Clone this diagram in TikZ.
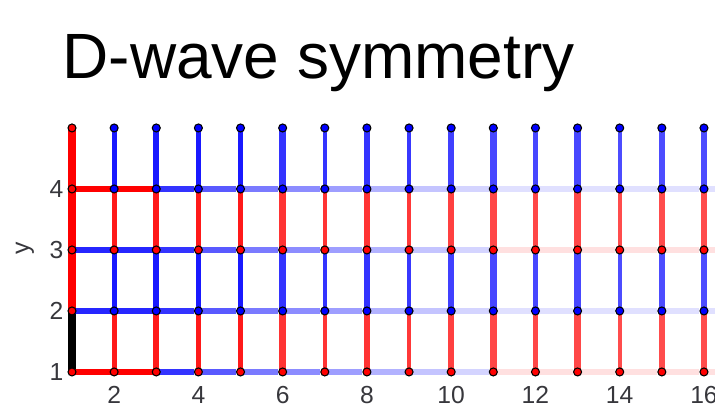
\documentclass[tikz,border=0pt]{standalone}
\usepackage{fontspec}
\setmainfont{Liberation Sans}
\usetikzlibrary{backgrounds}
\definecolor{dwred}{RGB}{255,0,0}
\definecolor{dwblue}{RGB}{0,0,255}
\definecolor{dwtick}{RGB}{55,55,60}
\tikzset{
  site/.style={circle, draw=black, line width=0.8pt, inner sep=0pt, minimum size=6pt},
  bond/.style={line cap=butt},
  hbond/.style={bond, line width=4.1pt},
  ticklab/.style={font=\fontsize{18.5}{18.5}\selectfont, text=dwtick, inner sep=0pt},
  heading/.style={font=\fontsize{48}{48}\selectfont, inner sep=0pt, anchor=base west}
}

\begin{document}
\begin{tikzpicture}[x=31.6pt, y=45.75pt]
  \useasboundingbox (-0.709,0.213) rectangle (16.262,7.098);
  \node[heading] (ttl) at (0.77,5.803) {D-wave symmetry};

  % lattice sites
  \foreach \j in {1,...,5}
    \foreach \i in {1,...,16} {
      \def\sitecol{dwblue}
      \ifnum\i=1 \def\sitecol{dwred}\fi
      \ifodd\j \ifnum\j<5 \def\sitecol{dwred}\fi\fi
      \node[site, fill=\sitecol] (st-\i-\j) at (\i,\j) {};
    }
  \foreach \j in {1,...,4}
    \coordinate (st-17-\j) at (17,\j);

  % axis labels
  \foreach \j in {1,...,4}
    \node[ticklab, anchor=east] (yl-\j) at (0.8,\j) {\j};
  \foreach \i in {2,4,...,16}
    \node[ticklab] (xl-\i) at (\i,0.63) {\i};
  \node[ticklab, rotate=90] (ylab) at (-0.12,3.02) {y};

  \begin{scope}[on background layer]
    % vertical bonds
    \draw[bond, line width=6pt, draw=black] (st-1-1.center) -- (st-1-2.center);
    \draw[bond, line width=6pt, draw=dwred] (st-1-2.center) -- (st-1-5.center);
    \foreach \i/\w/\o in {2/3.6/0.9, 3/4.8/0.9, 4/3.6/0.9, 5/4.2/0.9,
                          6/4.8/0.8, 7/3.3/0.8, 8/4.8/0.8, 9/3.3/0.78, 10/4.2/0.75,
                          11/4.8/0.72, 12/3.3/0.72, 13/4.8/0.72, 14/3.3/0.7,
                          15/4.5/0.7, 16/3.8/0.7} {
      \draw[bond, line width=\w pt, draw=dwred, draw opacity=\o] (st-\i-1.center) -- (st-\i-2.center);
      \draw[bond, line width=\w pt, draw=dwblue, draw opacity=\o] (st-\i-2.center) -- (st-\i-3.center);
      \draw[bond, line width=\w pt, draw=dwred, draw opacity=\o] (st-\i-3.center) -- (st-\i-4.center);
      \draw[bond, line width=\w pt, draw=dwblue, draw opacity=\o] (st-\i-4.center) -- (st-\i-5.center);
    }
    % horizontal bonds
    \foreach \i [evaluate=\i as \n using int(\i+1)] in {1,2} {
      \draw[hbond, draw=dwred] (st-\i-1.center) -- (st-\n-1.center);
      \draw[hbond, draw=dwblue, draw opacity=0.85] (st-\i-2.center) -- (st-\n-2.center);
      \draw[hbond, draw=dwblue, draw opacity=0.85] (st-\i-3.center) -- (st-\n-3.center);
      \draw[hbond, draw=dwred] (st-\i-4.center) -- (st-\n-4.center);
    }
    \foreach \i/\o/\c [evaluate=\i as \n using int(\i+1)] in
        {3/0.8/dwblue, 4/0.65/dwblue, 5/0.52/dwblue, 6/0.45/dwblue, 7/0.38/dwblue,
         8/0.3/dwblue, 9/0.23/dwblue, 10/0.17/dwblue, 11/0.12/dwred, 12/0.12/dwred,
         13/0.12/dwred, 14/0.12/dwred, 15/0.12/dwred, 16/0.12/dwred} {
      \draw[hbond, draw=\c, draw opacity=\o] (st-\i-1.center) -- (st-\n-1);
      \draw[hbond, draw=dwblue, draw opacity=\o] (st-\i-2.center) -- (st-\n-2);
      \draw[hbond, draw=\c, draw opacity=\o] (st-\i-3.center) -- (st-\n-3);
      \draw[hbond, draw=dwblue, draw opacity=\o] (st-\i-4.center) -- (st-\n-4);
    }
  \end{scope}
\end{tikzpicture}
\end{document}
